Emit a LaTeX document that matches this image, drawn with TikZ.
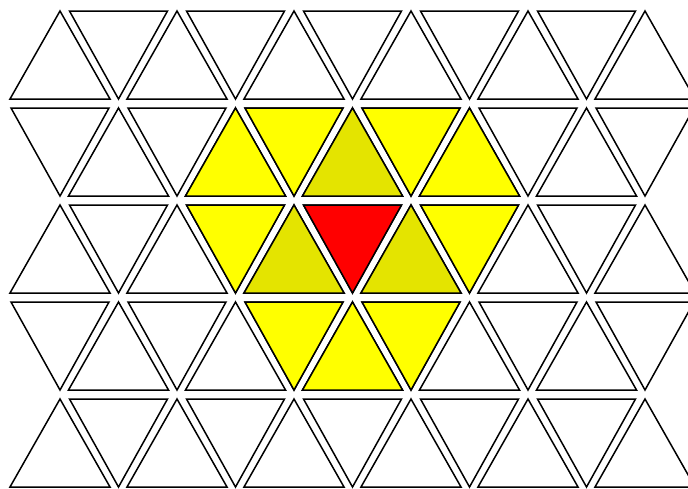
\documentclass[tikz,border=0pt]{standalone}
\definecolor{paleyel}{RGB}{255,255,0}
\definecolor{darkyel}{RGB}{228,228,0}
\definecolor{centrered}{RGB}{255,0,0}
\newcommand{\celltri}[3]{%
	\pgfmathsetmacro{\cx}{60+58.5*#2}%
	\pgfmathsetmacro{\ty}{11+97*#1}%
	\pgfmathsetmacro{\by}{99+97*#1}%
	\pgfmathtruncatemacro{\parity}{mod(#1+#2,2)}%
	\ifnum\parity=0
		\filldraw[tri, fill=#3] (\cx,\ty) -- (\cx+50,\by) -- (\cx-50,\by) -- cycle;
	\else
		\filldraw[tri, fill=#3] (\cx-49,\ty) -- (\cx+49,\ty) -- (\cx,\by) -- cycle;
	\fi}
\begin{document}
\begin{tikzpicture}[x=1pt, y=-1pt, tri/.style={draw=black, line width=1.5pt, line join=miter}]
			\useasboundingbox (0,0) rectangle (688,488);
			\fill[white] (0,0) rectangle (688,488);
			\clip (0,0) rectangle (688,488);
			
			\foreach \r in {0,...,4}
				\foreach \c in {0,...,10}
					{\celltri{\r}{\c}{white}}
			
			\foreach \r/\c in {1/3, 1/4, 1/6, 1/7, 2/3, 2/7, 3/4, 3/5, 3/6}
				{\celltri{\r}{\c}{paleyel}}
			\foreach \r/\c in {1/5, 2/4, 2/6}
				{\celltri{\r}{\c}{darkyel}}
			\celltri{2}{5}{centrered}
		\end{tikzpicture}
\end{document}
